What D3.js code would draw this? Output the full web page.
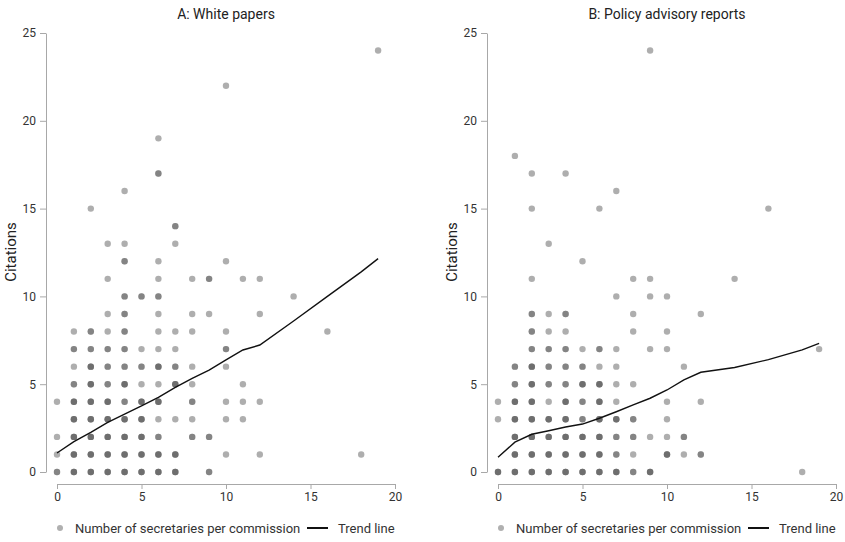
<!DOCTYPE html>
<html>
<head>
<meta charset="utf-8">
<script src="https://cdn.jsdelivr.net/npm/d3@7"></script>
<style>
  html, body { margin: 0; padding: 0; background: #fff; }
  svg { display: block; font-family: Roboto, "Noto Sans", sans-serif; }
</style>
</head>
<body>
<svg id="chart" width="845" height="542"></svg>
<script>
// Scatter data: [secretaries, citations, number of commissions at that point]
const whitePapers = [
  [0,0,2],[1,0,3],[2,0,3],[3,0,3],[4,0,3],[5,0,3],[6,0,3],[7,0,3],[9,0,2],
  [0,1,1],[1,1,3],[2,1,3],[3,1,3],[4,1,3],[5,1,3],[6,1,3],[7,1,3],[10,1,1],[12,1,1],[18,1,1],
  [0,2,1],[1,2,3],[2,2,3],[3,2,3],[4,2,3],[5,2,3],[6,2,2],[8,2,2],[9,2,2],
  [1,3,3],[2,3,3],[3,3,3],[4,3,3],[5,3,3],[6,3,1],[7,3,1],[8,3,1],[10,3,1],[11,3,1],
  [0,4,1],[1,4,3],[2,4,3],[3,4,3],[4,4,2],[5,4,3],[6,4,3],[8,4,2],[10,4,1],[11,4,1],[12,4,1],
  [1,5,2],[2,5,3],[3,5,2],[4,5,3],[5,5,1],[6,5,1],[7,5,3],[8,5,1],[11,5,1],
  [1,6,1],[2,6,3],[3,6,2],[4,6,2],[5,6,2],[6,6,3],[7,6,2],[8,6,1],[10,6,1],
  [1,7,2],[2,7,2],[3,7,2],[4,7,2],[5,7,1],[6,7,1],[7,7,1],[10,7,2],
  [1,8,1],[2,8,2],[3,8,1],[4,8,2],[6,8,1],[7,8,1],[8,8,1],[10,8,1],[16,8,1],
  [3,9,1],[4,9,2],[6,9,1],[8,9,1],[9,9,1],[12,9,1],
  [4,10,2],[5,10,2],[6,10,2],[14,10,1],
  [3,11,1],[6,11,1],[8,11,1],[9,11,2],[11,11,1],[12,11,1],
  [4,12,2],[6,12,1],[10,12,1],
  [3,13,1],[4,13,1],[7,13,1],
  [7,14,2],[2,15,1],[4,16,1],[6,17,2],[6,19,1],[10,22,1],[19,24,1]
];

const advisoryReports = [
  [0,0,3],[1,0,3],[2,0,3],[3,0,3],[4,0,3],[5,0,3],[6,0,3],[7,0,3],[8,0,2],[9,0,3],[18,0,1],
  [1,1,3],[2,1,3],[3,1,3],[4,1,3],[5,1,3],[6,1,3],[7,1,2],[8,1,1],[10,1,3],[11,1,1],[12,1,2],
  [1,2,3],[2,2,3],[3,2,3],[4,2,3],[5,2,3],[6,2,3],[7,2,2],[8,2,2],[9,2,1],[10,2,1],[11,2,2],
  [0,3,1],[1,3,3],[2,3,3],[3,3,3],[4,3,3],[5,3,2],[6,3,3],[7,3,3],[8,3,2],[10,3,1],
  [0,4,1],[1,4,3],[2,4,3],[3,4,1],[4,4,3],[5,4,2],[6,4,3],[7,4,1],[10,4,1],[12,4,1],
  [1,5,2],[2,5,3],[3,5,2],[4,5,2],[5,5,3],[6,5,3],[7,5,1],[8,5,1],
  [1,6,2],[2,6,3],[3,6,2],[4,6,2],[5,6,2],[6,6,1],[7,6,1],[11,6,1],
  [2,7,2],[3,7,2],[4,7,2],[5,7,1],[6,7,2],[7,7,1],[9,7,1],[10,7,1],[19,7,1],
  [2,8,2],[3,8,1],[4,8,1],[8,8,1],[10,8,1],
  [2,9,2],[3,9,1],[4,9,2],[8,9,1],[12,9,1],
  [7,10,1],[9,10,1],[10,10,1],
  [2,11,1],[8,11,1],[9,11,1],[14,11,1],
  [5,12,1],[3,13,1],
  [2,15,1],[6,15,1],[16,15,1],
  [7,16,1],[2,17,1],[4,17,1],[1,18,1],[9,24,1]
];

// Trend lines
const trendX = [0,1,2,3,4,5,6,7,8,9,10,11,12,14,16,18,19];
const trendWhite = [1.08,1.73,2.26,2.83,3.3,3.76,4.25,4.82,5.33,5.8,6.38,6.95,7.23,8.6,10.0,11.4,12.15];
const trendAdvisory = [0.84,1.7,2.15,2.35,2.56,2.73,3.06,3.43,3.82,4.2,4.67,5.24,5.68,5.95,6.4,6.95,7.32];

const xTicks = [0,5,10,15,20];
const yTicks = [0,5,10,15,20,25];
const panelTitles = ["A: White papers", "B: Policy advisory reports"];
const yLabel = "Citations";
const legendLabels = ["Number of secretaries per commission", "Trend line"];

const svg = d3.select("#chart");

const panels = [
  {title: panelTitles[0], pts: whitePapers, trend: trendWhite, x0: 57},
  {title: panelTitles[1], pts: advisoryReports, trend: trendAdvisory, x0: 498}
];

panels.forEach(p => {
  const x = d3.scaleLinear().domain([0, 20]).range([p.x0, p.x0 + 338]);
  const y = d3.scaleLinear().domain([0, 25]).range([472, 33]);
  const g = svg.append("g");

  // y axis
  const ya = g.append("g")
    .attr("transform", `translate(${p.x0 - 11},0)`)
    .call(d3.axisLeft(y).tickValues(yTicks).tickSize(6).tickSizeOuter(0).tickPadding(4));
  // x axis
  const xa = g.append("g")
    .attr("transform", `translate(0,484)`)
    .call(d3.axisBottom(x).tickValues(xTicks).tickSize(5).tickSizeOuter(0).tickPadding(3));
  [ya, xa].forEach(a => {
    a.select(".domain").attr("stroke", "#a8a8a8");
    a.selectAll(".tick line").attr("stroke", "#a8a8a8");
    a.selectAll(".tick text").attr("fill", "#333").style("font-size", "12px")
      .style("font-family", "Roboto, sans-serif");
  });

  // title
  g.append("text")
    .attr("x", x(10)).attr("y", 19)
    .attr("text-anchor", "middle")
    .attr("fill", "#222")
    .style("font-size", "14px")
    .text(p.title);

  // y label
  g.append("text")
    .attr("transform", `translate(${p.x0 - 41},252) rotate(-90)`)
    .attr("text-anchor", "middle")
    .attr("fill", "#222")
    .style("font-size", "15px")
    .text(yLabel);

  // points (overlapping commissions stacked as translucent dots)
  const expanded = [];
  p.pts.forEach(d => { for (let i = 0; i < d[2]; i++) expanded.push(d); });
  g.append("g").selectAll("circle")
    .data(expanded)
    .join("circle")
    .attr("cx", d => x(d[0]))
    .attr("cy", d => y(d[1]))
    .attr("r", 3.2)
    .attr("fill", "#555")
    .attr("fill-opacity", 0.48);

  // trend line
  const line = d3.line().x((d, i) => x(trendX[i])).y(d => y(d));
  g.append("path")
    .datum(p.trend)
    .attr("d", line)
    .attr("fill", "none")
    .attr("stroke", "#111")
    .attr("stroke-width", 1.4);

  // legend
  const lg = g.append("g").attr("transform", `translate(${p.x0},528)`);
  lg.append("circle").attr("cx", 3).attr("cy", 0).attr("r", 3).attr("fill", "#b0b0b0");
  lg.append("text").attr("x", 18).attr("y", 4.5).attr("fill", "#333")
    .style("font-size", "13px").text(legendLabels[0]);
  lg.append("line").attr("x1", 250).attr("x2", 271).attr("y1", 0).attr("y2", 0)
    .attr("stroke", "#111").attr("stroke-width", 2);
  lg.append("text").attr("x", 281).attr("y", 4.5).attr("fill", "#333")
    .style("font-size", "13px").text(legendLabels[1]);
});
</script>
</body>
</html>
